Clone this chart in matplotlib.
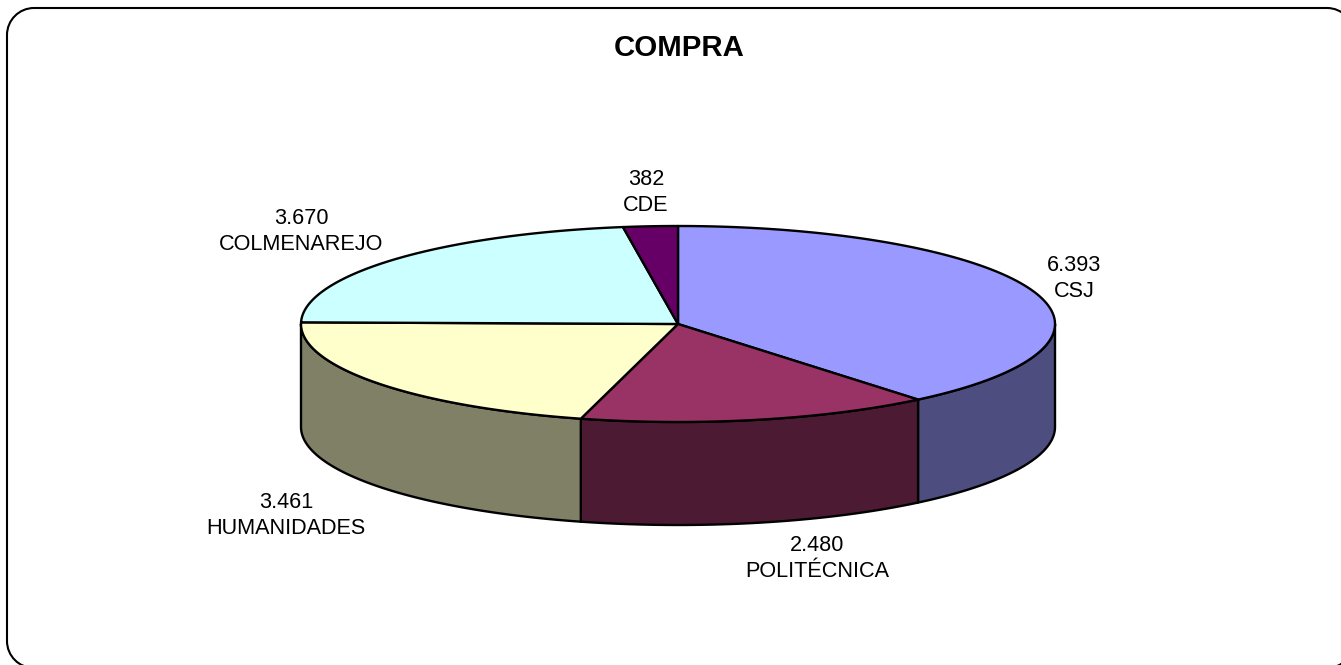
import numpy as np
import matplotlib
matplotlib.use("Agg")
import matplotlib.pyplot as plt
from matplotlib.patches import Polygon, PathPatch
from matplotlib.path import Path

categories = ["CSJ", "POLITÉCNICA", "HUMANIDADES", "COLMENAREJO", "CDE"]
values = [6393, 2480, 3461, 3670, 382]
value_labels = ["6.393", "2.480", "3.461", "3.670", "382"]
top_colors = ["#9999FF", "#993366", "#FFFFCC", "#CCFFFF", "#660066"]
side_colors = ["#4D4D80", "#4D1A33", "#808066", "#668080", "#330033"]
label_pos = [(1074, 278.5), (817, 558.5), (286, 515.5), (301, 231.5), (646, 192.5)]

W, H = 1341, 665
CX, CY, RX, RY, DEPTH = 678, 324, 377, 98, 103
LW = 1.7

plt.rcParams["font.family"] = ["Liberation Sans", "DejaVu Sans"]
fig = plt.figure(figsize=(W / 100, H / 100), dpi=100, facecolor="white")
ax = fig.add_axes([0, 0, 1, 1])
ax.set_xlim(0, W)
ax.set_ylim(H, 0)
ax.axis("off")

# Rounded outer frame (runs past the right and bottom edges)
L, T, R, B, r = 7, 8, 1354, 668, 27
k = 0.5523 * r
verts = [(L + r, T), (R - r, T), (R - r + k, T), (R, T + r - k), (R, T + r),
         (R, B - r), (R, B - r + k), (R - r + k, B), (R - r, B),
         (L + r, B), (L + r - k, B), (L, B - r + k), (L, B - r),
         (L, T + r), (L, T + r - k), (L + r - k, T), (L + r, T)]
codes = [Path.MOVETO, Path.LINETO, Path.CURVE4, Path.CURVE4, Path.CURVE4,
         Path.LINETO, Path.CURVE4, Path.CURVE4, Path.CURVE4,
         Path.LINETO, Path.CURVE4, Path.CURVE4, Path.CURVE4,
         Path.LINETO, Path.CURVE4, Path.CURVE4, Path.CURVE4]
ax.add_patch(PathPatch(Path(verts, codes), fc="white", ec="black", lw=1.5, clip_on=True))


def rim(a0, a1, dy=0.0):
    t = np.radians(np.linspace(a0, a1, max(int(abs(a1 - a0) * 2), 2)))
    return np.column_stack([CX + RX * np.sin(t), CY - RY * np.cos(t) + dy])


edges = np.concatenate([[0], np.cumsum(values)]) / np.sum(values) * 360

# Side walls: only the front half of the rim is visible
for i in range(len(values)):
    a0, a1 = max(edges[i], 90), min(edges[i + 1], 270)
    if a1 <= a0:
        continue
    upper = rim(a0, a1)
    lower = rim(a0, a1, DEPTH)[::-1]
    ax.add_patch(Polygon(np.vstack([upper, lower]), closed=True, fc=side_colors[i],
                         ec="black", lw=LW, joinstyle="round"))

# Top faces
for i in range(len(values)):
    pts = np.vstack([[(CX, CY)], rim(edges[i], edges[i + 1])])
    ax.add_patch(Polygon(pts, closed=True, fc=top_colors[i], ec="black", lw=LW,
                         joinstyle="round"))

for val, cat, (x, y) in zip(value_labels, categories, label_pos):
    ax.text(x, y, f"{val}\n{cat}", ha="center", va="center", fontsize=15.6,
            color="black", linespacing=1.36)

ax.text(679, 48, "COMPRA", ha="center", va="center", fontsize=21.2,
        fontweight="bold", color="black")

fig.savefig("out.png", dpi=100, facecolor="white")
